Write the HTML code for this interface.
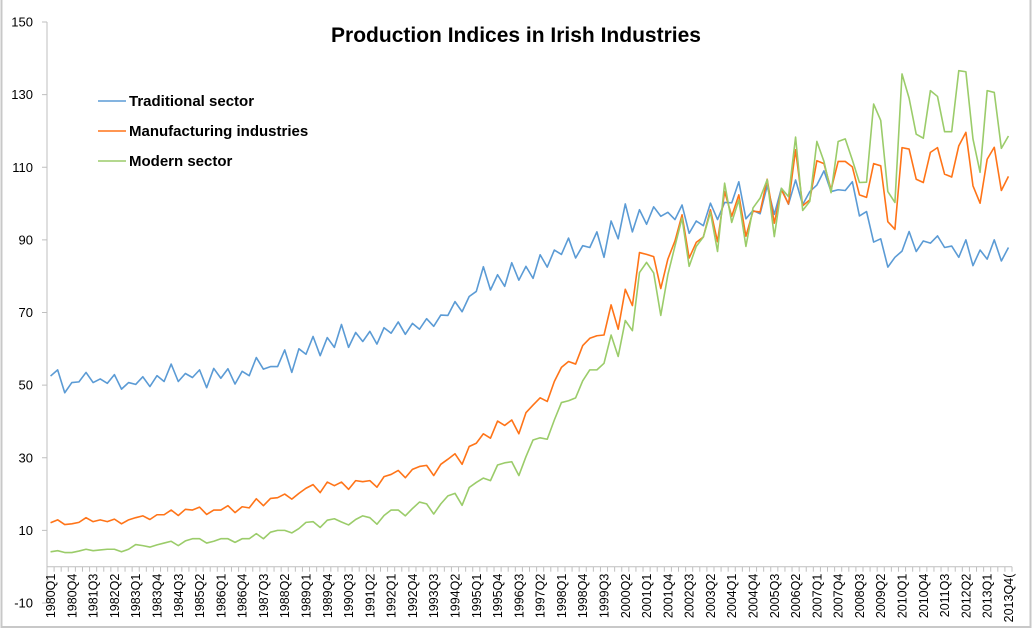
<!DOCTYPE html>
<html><head><meta charset="utf-8"><style>
html,body{margin:0;padding:0;background:#fff;}
svg{display:block;font-family:"Liberation Sans",sans-serif;}
</style></head><body>
<svg id="chart" width="1033" height="630" viewBox="0 0 1033 630" xmlns="http://www.w3.org/2000/svg">
<rect x="1.5" y="-2" width="1029" height="629" fill="#fff" stroke="#c8c8c8" stroke-width="2"/>
<text x="516" y="42" text-anchor="middle" font-size="21" font-weight="bold" fill="#000">Production Indices in Irish Industries</text>
<g id="axes"></g>
<g id="series"></g>
<g>
<line x1="98" y1="101" x2="126" y2="101" stroke="#5b9bd5" stroke-width="1.5"/>
<text x="129" y="106" font-size="15" font-weight="bold" fill="#000">Traditional sector</text>
<line x1="98" y1="131" x2="126" y2="131" stroke="#ff7418" stroke-width="1.5"/>
<text x="129" y="136" font-size="15" font-weight="bold" fill="#000">Manufacturing industries</text>
<line x1="98" y1="161" x2="126" y2="161" stroke="#9bcc6a" stroke-width="1.5"/>
<text x="129" y="166" font-size="15" font-weight="bold" fill="#000">Modern sector</text>
</g>
</svg>
<script>
const yTicks = [-10, 10, 30, 50, 70, 90, 110, 130, 150];
const traditional = [52.5,54.2,47.9,50.7,50.9,53.5,50.7,51.7,50.5,52.9,48.9,50.7,50.2,52.3,49.6,52.6,51.0,55.8,51.0,53.2,52.1,54.2,49.3,54.6,51.9,54.5,50.3,53.8,52.6,57.6,54.4,55.1,55.1,59.7,53.5,
60.0,58.5,63.4,58.1,63.1,60.4,66.7,60.4,64.5,62.0,64.8,61.3,65.8,64.3,67.4,64.0,67.0,65.4,68.3,66.2,69.3,69.2,73.0,70.2,74.4,75.8,82.6,76.2,80.4,77.2,83.7,78.9,82.7,79.4,85.9,
82.5,87.2,86.0,90.5,85.0,88.4,87.9,92.2,85.2,95.2,90.3,99.9,92.2,98.3,94.3,99.1,96.5,97.6,95.6,99.6,91.8,95.2,93.9,100.1,95.6,100.3,100.2,106.0,95.8,98.1,97.2,104.9,
97.0,104.2,99.8,106.5,99.7,103.3,105.1,109.0,103.3,103.8,103.6,106.0,96.6,97.8,89.4,90.3,82.5,85.2,86.9,92.3,86.8,89.7,89.1,91.1,87.9,88.3,85.2,90.0,82.9,87.2,84.7,90.0,84.2,87.9];
const manufacturing = [12.1,12.9,11.6,11.8,12.2,13.5,12.4,12.9,12.4,13.1,11.8,12.9,13.5,14.0,13.0,14.3,14.3,15.6,14.1,15.8,15.6,16.4,14.4,15.6,15.6,16.8,14.9,16.5,16.2,18.7,16.8,18.8,19.0,20.0,18.6,
20.2,21.6,22.6,20.4,23.3,22.3,23.3,21.3,23.7,23.4,23.7,21.9,24.8,25.4,26.5,24.5,26.8,27.6,27.9,25.1,28.2,29.6,31.1,28.2,33.1,34.0,36.6,35.4,40.1,38.9,40.4,36.6,42.4,44.5,
46.5,45.5,51.0,54.9,56.5,55.8,60.9,62.9,63.6,63.8,72.1,65.4,76.4,71.9,86.5,86.0,85.4,76.6,84.7,89.7,96.9,85.0,89.3,90.8,98.3,89.5,103.3,96.5,102.4,91.0,97.9,97.7,106.7,
94.6,103.8,99.9,114.8,99.4,101.0,111.8,111.0,103.8,111.6,111.6,110.1,102.4,101.7,111.0,110.4,95.0,92.9,115.4,115.0,106.7,105.8,114.1,115.4,108.1,107.3,115.9,119.6,104.9,100.1,112.2,115.5,103.6,107.5];
const modern = [4.1,4.4,3.9,3.9,4.3,4.8,4.4,4.6,4.8,4.8,4.1,4.8,6.1,5.8,5.4,6.0,6.5,7.0,5.8,7.1,7.7,7.7,6.5,7.0,7.7,7.7,6.7,7.7,7.7,9.1,7.7,9.5,10.0,10.0,9.3,
10.5,12.2,12.4,10.8,12.8,13.2,12.3,11.5,13.0,14.0,13.5,11.7,14.1,15.6,15.6,14.0,16.0,17.8,17.3,14.5,17.3,19.5,20.2,16.9,21.8,23.2,24.4,23.7,28.0,28.6,28.9,25.1,30.3,34.9,35.5,35.1,
40.4,45.2,45.7,46.5,51.2,54.2,54.2,56.0,63.8,57.9,67.8,65.0,81.0,83.8,80.9,69.2,80.4,88.3,96.0,82.7,88.2,90.8,97.6,86.8,105.6,94.8,101.0,88.2,98.8,101.5,106.6,
90.9,104.2,101.9,118.3,98.1,100.6,117.1,111.6,103.0,117.1,117.8,112.0,105.8,105.9,127.4,122.9,103.3,100.3,135.7,129.0,119.1,118.0,131.1,129.5,119.8,119.8,136.6,136.3,117.8,108.6,131.1,130.6,115.2,118.6];
const startYear = 1980;

const NS = "http://www.w3.org/2000/svg";
const nCat = traditional.length;
const plotL = 47, plotR = 1012, plotT = 22, plotB = 603;
const yMin = -10, yMax = 150;
const catW = (plotR - plotL) / nCat;
function xPos(i){ return plotL + catW * (i + 0.5); }
function yPos(v){ return plotB - (v - yMin) / (yMax - yMin) * (plotB - plotT); }
function quarterLabel(i){ return (startYear + Math.floor(i / 4)) + "Q" + (i % 4 + 1); }
function mk(tag, attrs){ const e = document.createElementNS(NS, tag); for (const k in attrs) e.setAttribute(k, attrs[k]); return e; }

const axes = document.getElementById("axes");
const yAxis = mk("line", {x1: plotL, y1: plotT, x2: plotL, y2: plotB, stroke: "#bfbfbf", "stroke-width": 1});


axes.appendChild(yAxis);
yTicks.forEach(t => {
  const y = yPos(t);
  const tk = mk("line", {x1: plotL - 5, y1: y, x2: plotL, y2: y, stroke: "#bfbfbf", "stroke-width": 1});
  
  
  axes.appendChild(tk);
  const tx = mk("text", {x: 33, y: y + 4.5, "text-anchor": "end", "font-size": 13, fill: "#000"});
  
  
  tx.textContent = t;
  axes.appendChild(tx);
});
const y0 = yPos(0);
const xAxis = mk("line", {x1: plotL, y1: y0, x2: plotR, y2: y0, stroke: "#bfbfbf", "stroke-width": 1});


axes.appendChild(xAxis);
for (let i = 0; i <= nCat; i++) {
  const x = plotL + catW * i;
  const tk = mk("line", {x1: x, y1: y0, x2: x, y2: y0 + 5, stroke: "#bfbfbf", "stroke-width": 1});
  
  
  axes.appendChild(tk);
}
for (let i = 0; i < nCat; i += 3) {
  const x = xPos(i) + 4.5;
  const lbl = i === nCat - 1 ? quarterLabel(i) + "(" : quarterLabel(i);
  const tx = mk("text", {x: 0, y: 0, transform: "translate(" + x + "," + (y0 + 7) + ") rotate(-90)", "text-anchor": "end", "font-size": 12.5, fill: "#000"});
  
  
  tx.textContent = lbl;
  axes.appendChild(tx);
}

const seriesG = document.getElementById("series");
function drawSeries(vals, color, name){
  const pts = vals.map((v, i) => xPos(i).toFixed(2) + "," + yPos(v).toFixed(2)).join(" ");
  const pl = mk("polyline", {points: pts, fill: "none", stroke: color, "stroke-width": 1.6, "stroke-linejoin": "round"});
  
  
  seriesG.appendChild(pl);
}
drawSeries(traditional, "#5b9bd5", "traditional-sector-line");
drawSeries(manufacturing, "#ff7418", "manufacturing-industries-line");
drawSeries(modern, "#9bcc6a", "modern-sector-line");
</script>
</body></html>
